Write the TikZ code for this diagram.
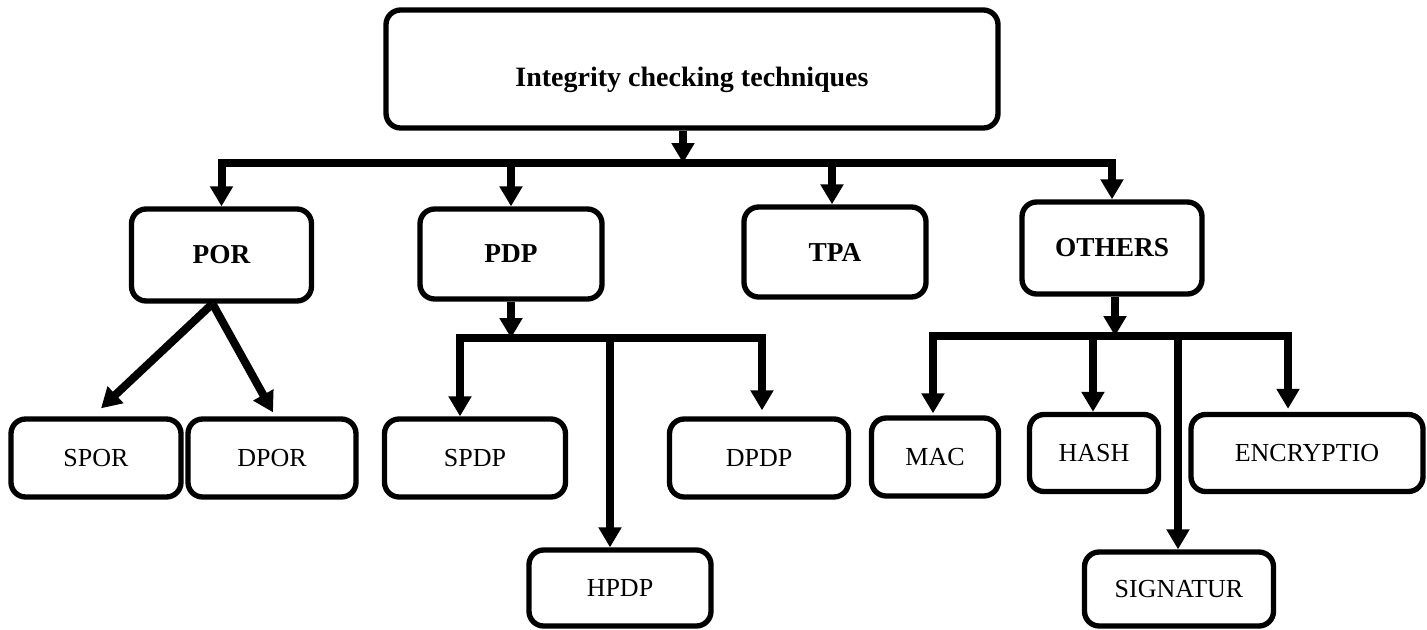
\documentclass[tikz,border=0pt]{standalone}
\usepackage{fontspec}
\setmainfont{Liberation Serif}
\usetikzlibrary{arrows.meta,calc}

\tikzset{
  box/.style={draw=black, line width=4pt, rounded corners=11pt, fill=white,
              align=center, inner sep=0pt, font=\fontsize{19.5}{22}\selectfont},
  headbox/.style={box, font=\bfseries\fontsize{20.5}{24}\selectfont},
  wh/.style 2 args={minimum width=#1*0.75pt, minimum height=#2*0.75pt},
  arr/.style={line width=6pt, -{Triangle[width=16.5pt,length=15pt]}},
}

\begin{document}
\begin{tikzpicture}[x=0.75pt,y=-0.75pt]
\useasboundingbox (0,0) rectangle (1427,629);

% root
\node[headbox, wh={612}{118}, font=\bfseries\fontsize{21}{24}\selectfont] (top) at (692,69)
  {\raisebox{-6pt}[\height][0pt]{Integrity checking techniques}};

% first level
\node[headbox, wh={180}{92}] (por)    at (221.5,255) {POR};
\node[headbox, wh={182}{90}] (pdp)    at (511,254)   {PDP};
\node[headbox, wh={182}{90}] (tpa)    at (835,252)   {TPA};
\node[headbox, wh={180}{92}] (others) at (1112,248)  {OTHERS};

% second level
\node[box, wh={170}{78}] (spor) at (96,458)   {SPOR};
\node[box, wh={168}{78}] (dpor) at (272,458)  {DPOR};
\node[box, wh={181}{78}] (spdp) at (475,458)  {SPDP};
\node[box, wh={182}{76}] (hpdp) at (620,588)  {HPDP};
\node[box, wh={179}{78}] (dpdp) at (759,458)  {DPDP};
\node[box, wh={127}{78}] (mac)  at (935,457)  {MAC};
\node[box, wh={129}{77}] (hash) at (1094,453) {HASH};
\node[box, wh={189}{74}] (sig)  at (1179,589) {SIGNATUR};
\node[box, wh={232}{77}] (enc)  at (1307,453) {ENCRYPTIO};

% junctions on the buses
\coordinate (jtop) at ($(top.south)+(-9,0)$);
\coordinate (jt)   at (jtop |- 0,163);
\coordinate (jpdp) at (pdp.south |- 0,338);
\coordinate (joth) at ($(others.south)+(3,0)$);
\coordinate (jo)   at (joth |- 0,336);

% root to first level
\draw[arr] (jtop) -- (jt);
\draw[arr] (jt) -| (por.north);
\draw[arr] (jt) -| (others.north);
\draw[arr] (jt -| pdp.north) -- (pdp.north);
\draw[arr] ($(jt -| tpa.north)+(-3,0)$) -- ($(tpa.north)+(-3,0)$);

% POR branch
\draw[arr] ($(por.south)+(-9,0)$) -- ($(spor.north)+(5,-8)$);
\draw[arr] ($(por.south)+(-9,0)$) -- ($(dpor.north)+(1,-4)$);

% PDP branch
\draw[arr] (pdp.south) -- (jpdp);
\draw[arr] (jpdp) -| ($(spdp.north)+(-15,0)$);
\draw[arr] (jpdp) -| ($(dpdp.north)+(3,-6)$);
\draw[arr] ($(jpdp -| hpdp.north)+(-10,0)$) -- ($(hpdp.north)+(-10,0)$);

% OTHERS branch
\draw[arr] (joth) -- (jo);
\draw[arr] (jo) -| ($(mac.north)+(-2,-2)$);
\draw[arr] (jo) -| ($(enc.north)+(-19,-3)$);
\draw[arr] ($(jo -| hash.north)+(-1,0)$) -- ($(hash.north)+(-1,0)$);
\draw[arr] ($(jo -| sig.north)+(-1,0)$) -- ($(sig.north)+(-1,0)$);
\end{tikzpicture}
\end{document}
